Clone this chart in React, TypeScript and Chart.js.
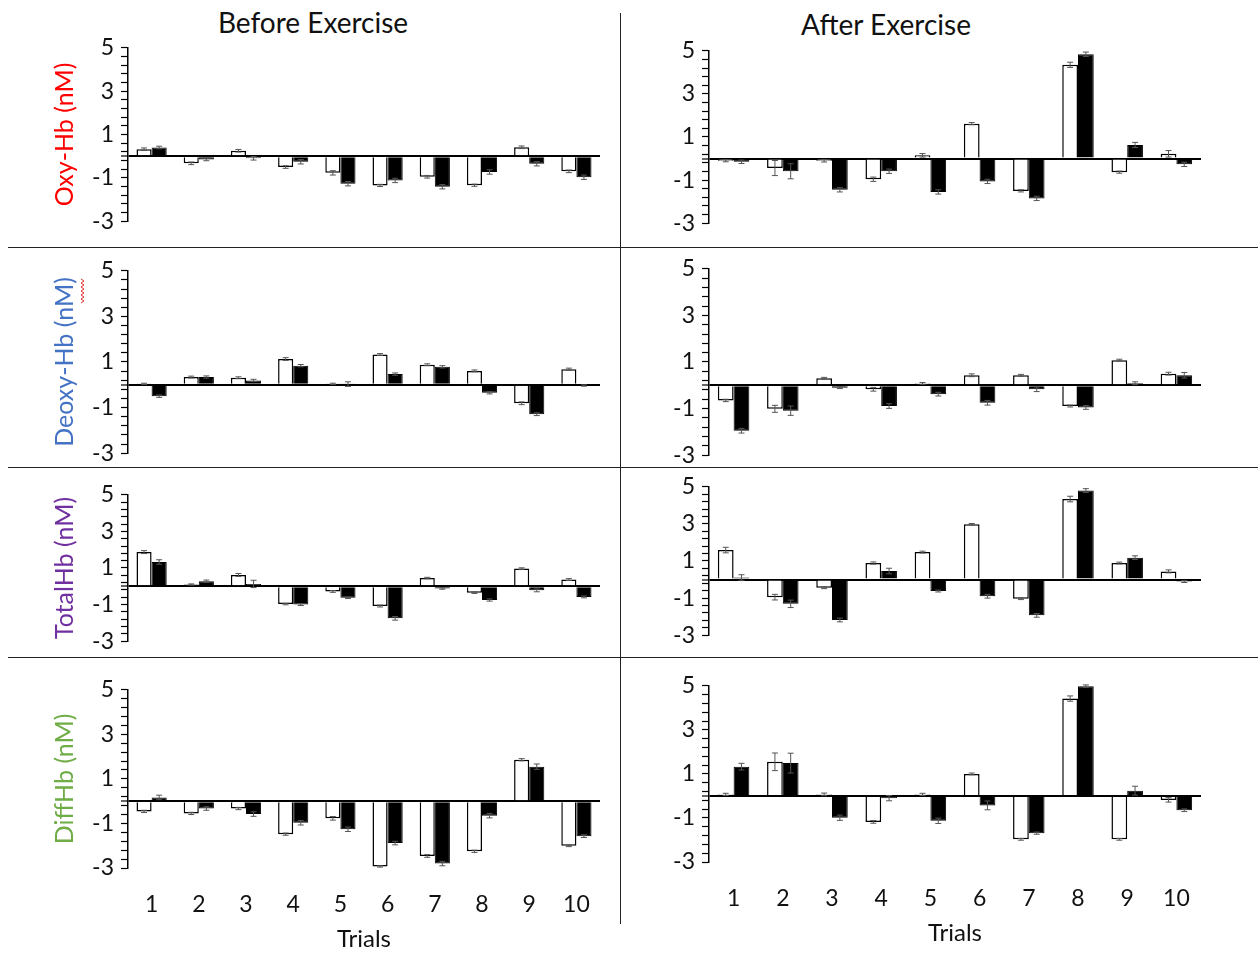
import React, { useEffect, useRef } from 'react';
import { Chart, registerables } from 'chart.js';

Chart.register(...registerables);

// ---------- data ----------
const trials = ['1', '2', '3', '4', '5', '6', '7', '8', '9', '10'];
const yMajorTicks = [5, 3, 1, -1, -3];

// Oxy-Hb, before exercise
const oxyBeforeOpen = [0.32, -0.33, 0.25, -0.5, -0.77, -1.35, -0.95, -1.34, 0.41, -0.7];
const oxyBeforeOpenErr = [0.06, 0.06, 0.06, 0.06, 0.1, 0.05, 0.06, 0.05, 0.06, 0.06];
const oxyBeforeFilled = [0.4, -0.15, -0.1, -0.26, -1.27, -1.12, -1.41, -0.73, -0.35, -0.97];
const oxyBeforeFilledErr = [0.06, 0.06, 0.08, 0.1, 0.1, 0.1, 0.1, 0.1, 0.1, 0.1];
// Oxy-Hb, after exercise
const oxyAfterOpen = [-0.1, -0.44, -0.1, -0.96, 0.15, 1.62, -1.5, 4.35, -0.63, 0.22];
const oxyAfterOpenErr = [0.05, 0.35, 0.06, 0.1, 0.08, 0.05, 0.05, 0.12, 0.05, 0.15];
const oxyAfterFilled = [-0.15, -0.59, -1.45, -0.59, -1.55, -1.06, -1.85, 4.84, 0.63, -0.27];
const oxyAfterFilledErr = [0.08, 0.35, 0.1, 0.1, 0.1, 0.1, 0.1, 0.1, 0.12, 0.1];

// Deoxy-Hb, before exercise
const deoxyBeforeOpen = [0.04, 0.34, 0.31, 1.13, 0.04, 1.33, 0.88, 0.61, -0.81, 0.68];
const deoxyBeforeOpenErr = [0.03, 0.04, 0.04, 0.06, 0.03, 0.04, 0.04, 0.04, 0.06, 0.05];
const deoxyBeforeFilled = [-0.5, 0.34, 0.19, 0.84, 0.03, 0.47, 0.79, -0.35, -1.29, -0.03];
const deoxyBeforeFilledErr = [0.05, 0.05, 0.05, 0.05, 0.1, 0.05, 0.05, 0.05, 0.06, 0.03];
// Deoxy-Hb, after exercise
const deoxyAfterOpen = [-0.65, -1.01, 0.3, -0.17, 0.08, 0.43, 0.43, -0.89, 1.08, 0.5];
const deoxyAfterOpenErr = [0.05, 0.15, 0.04, 0.08, 0.04, 0.06, 0.04, 0.04, 0.04, 0.06];
const deoxyAfterFilled = [-1.95, -1.09, -0.1, -0.89, -0.38, -0.75, -0.17, -0.95, 0.09, 0.43];
const deoxyAfterFilledErr = [0.1, 0.2, 0.04, 0.1, 0.08, 0.1, 0.1, 0.08, 0.06, 0.12];

// TotalHb, before exercise
const totalBeforeOpen = [1.87, 0.1, 0.62, -0.97, -0.28, -1.08, 0.45, -0.35, 0.97, 0.37];
const totalBeforeOpenErr = [0.08, 0.03, 0.08, 0.04, 0.05, 0.05, 0.04, 0.04, 0.04, 0.05];
const totalBeforeFilled = [1.33, 0.28, 0.13, -1.0, -0.63, -1.75, -0.12, -0.75, -0.22, -0.58];
const totalBeforeFilledErr = [0.12, 0.06, 0.2, 0.05, 0.04, 0.1, 0.04, 0.06, 0.08, 0.05];
// TotalHb, after exercise
const totalAfterOpen = [1.59, -0.95, -0.44, 0.89, 1.48, 2.98, -1.03, 4.34, 0.89, 0.44];
const totalAfterOpenErr = [0.15, 0.15, 0.05, 0.06, 0.05, 0.04, 0.05, 0.15, 0.05, 0.08];
const totalAfterFilled = [0.11, -1.31, -2.18, 0.46, -0.62, -0.9, -1.93, 4.8, 1.18, -0.11];
const totalAfterFilledErr = [0.15, 0.2, 0.1, 0.15, 0.05, 0.1, 0.1, 0.1, 0.1, 0.05];

// DiffHb, before exercise
const diffBeforeOpen = [-0.46, -0.55, -0.33, -1.48, -0.77, -2.93, -2.46, -2.25, 1.86, -2.0];
const diffBeforeOpenErr = [0.05, 0.05, 0.05, 0.05, 0.08, 0.03, 0.06, 0.05, 0.05, 0.04];
const diffBeforeFilled = [0.17, -0.33, -0.58, -0.97, -1.26, -1.88, -2.8, -0.65, 1.55, -1.57];
const diffBeforeFilledErr = [0.1, 0.08, 0.1, 0.1, 0.1, 0.08, 0.1, 0.1, 0.12, 0.06];
// DiffHb, after exercise
const diffAfterOpen = [0.07, 1.55, 0.07, -1.18, 0.07, 1.0, -1.97, 4.42, -1.97, -0.18];
const diffAfterOpenErr = [0.05, 0.4, 0.06, 0.06, 0.05, 0.04, 0.04, 0.12, 0.04, 0.1];
const diffAfterFilled = [1.33, 1.49, -0.99, -0.1, -1.13, -0.43, -1.69, 4.98, 0.24, -0.65];
const diffAfterFilledErr = [0.15, 0.45, 0.12, 0.12, 0.12, 0.2, 0.05, 0.06, 0.2, 0.06];

const FONT = 'Lato, "Open Sans", sans-serif';

type PanelSpec = {
  open: number[];
  openErr: number[];
  filled: number[];
  filledErr: number[];
  col: 0 | 1;
  top: number;
  bottom: number;
  bottomRow?: boolean;
  yTitle?: string;
  yTitleColor?: string;
};

const errorBarPlugin = {
  id: 'errorBars',
  afterDatasetsDraw(chart: any) {
    const ctx = chart.ctx;
    const yScale = chart.scales.y;
    chart.data.datasets.forEach((ds: any, i: number) => {
      const meta = chart.getDatasetMeta(i);
      const errs: number[] = ds.errors || [];
      meta.data.forEach((el: any, j: number) => {
        const v = ds.data[j];
        const e = errs[j] || 0;
        const x = el.x;
        const y1 = yScale.getPixelForValue(v + e);
        const y2 = yScale.getPixelForValue(v - e);
        ctx.save();
        ctx.strokeStyle = '#555';
        ctx.lineWidth = 1;
        ctx.beginPath();
        ctx.moveTo(x, y1);
        ctx.lineTo(x, y2);
        ctx.moveTo(x - 3, y1);
        ctx.lineTo(x + 3, y1);
        ctx.moveTo(x - 3, y2);
        ctx.lineTo(x + 3, y2);
        ctx.stroke();
        ctx.restore();
      });
    });
  },
};

const COLS = [
  { canvasLeft: 40, axisW: 88, chartRight: 600 },
  { canvasLeft: 640, axisW: 69, chartRight: 1201 },
];
const PAD = 16;
const XAXIS_H = 86;

function Panel({ spec }: { spec: PanelSpec }) {
  const ref = useRef<HTMLCanvasElement | null>(null);
  const col = COLS[spec.col];
  const width = col.chartRight - col.canvasLeft;
  const height = spec.bottom - spec.top + PAD + (spec.bottomRow ? XAXIS_H : PAD);

  useEffect(() => {
    if (!ref.current) return;
    const chart = new Chart(ref.current, {
      type: 'bar',
      data: {
        labels: trials,
        datasets: [
          {
            data: spec.open,
            errors: spec.openErr,
            backgroundColor: '#ffffff',
            borderColor: '#000000',
            borderWidth: 1.5,
            categoryPercentage: 0.64,
            barPercentage: 1,
          } as any,
          {
            data: spec.filled,
            errors: spec.filledErr,
            backgroundColor: '#000000',
            borderColor: '#000000',
            borderWidth: 1,
            categoryPercentage: 0.64,
            barPercentage: 1,
          } as any,
        ],
      },
      options: {
        responsive: false,
        animation: false,
        devicePixelRatio: 1,
        layout: { padding: { top: PAD, bottom: spec.bottomRow ? 0 : PAD, left: 0, right: 0 } },
        plugins: { legend: { display: false }, tooltip: { enabled: false } },
        scales: {
          x: spec.bottomRow
            ? {
                afterFit: (s: any) => {
                  s.height = XAXIS_H;
                },
                border: { display: false },
                grid: {
                  display: true,
                  drawOnChartArea: false,
                  drawTicks: true,
                  tickLength: 23,
                  tickColor: 'rgba(0,0,0,0)',
                },
                ticks: {
                  padding: 0,
                  color: '#111',
                  font: { family: FONT, size: 23 },
                  maxRotation: 0,
                },
                title: {
                  display: true,
                  text: 'Trials',
                  color: '#111',
                  font: { family: FONT, size: 24 },
                  padding: { top: 0, bottom: 0 },
                },
              }
            : { display: false },
          y: {
            min: -3,
            max: 5,
            afterFit: (s: any) => {
              s.width = col.axisW;
            },
            afterBuildTicks: (s: any) => {
              const t = s.ticks.slice();
              t.push({ value: 0 });
              t.sort((a: any, b: any) => a.value - b.value);
              s.ticks = t;
            },
            border: { color: '#000', width: 1.5 },
            grid: {
              drawOnChartArea: true,
              color: (c: any) => (c.tick && Math.abs(c.tick.value) < 1e-9 ? '#000' : 'rgba(0,0,0,0)'),
              lineWidth: (c: any) => (c.tick && Math.abs(c.tick.value) < 1e-9 ? 2 : 1),
              tickColor: '#000',
              tickLength: 7,
              tickWidth: 1.2,
            },
            ticks: {
              stepSize: 0.4,
              autoSkip: false,
              maxTicksLimit: 100,
              padding: 7,
              color: '#111',
              font: { family: FONT, size: 23 },
              callback: (v: any) => {
                const r = Math.round(Number(v) * 10) / 10;
                return yMajorTicks.includes(r) ? String(r) : '';
              },
            },
            title: spec.yTitle
              ? {
                  display: true,
                  text: spec.yTitle,
                  color: spec.yTitleColor,
                  font: { family: FONT, size: 25 },
                  padding: { top: 10, bottom: 0 },
                }
              : { display: false },
          },
        },
      },
      plugins: [errorBarPlugin],
    } as any);
    return () => chart.destroy();
  }, []);

  return (
    <canvas
      ref={ref}
      width={width}
      height={height}
      style={{
        position: 'absolute',
        left: col.canvasLeft,
        top: spec.top - PAD,
        width,
        height,
        display: 'block',
      }}
    />
  );
}

const panels: PanelSpec[] = [
  { open: oxyBeforeOpen, openErr: oxyBeforeOpenErr, filled: oxyBeforeFilled, filledErr: oxyBeforeFilledErr, col: 0, top: 43, bottom: 226, yTitle: 'Oxy-Hb (nM)', yTitleColor: '#ff0000' },
  { open: oxyAfterOpen, openErr: oxyAfterOpenErr, filled: oxyAfterFilled, filledErr: oxyAfterFilledErr, col: 1, top: 46, bottom: 228 },
  { open: deoxyBeforeOpen, openErr: deoxyBeforeOpenErr, filled: deoxyBeforeFilled, filledErr: deoxyBeforeFilledErr, col: 0, top: 266, bottom: 458, yTitle: 'Deoxy-Hb (nM)', yTitleColor: '#4472c4' },
  { open: deoxyAfterOpen, openErr: deoxyAfterOpenErr, filled: deoxyAfterFilled, filledErr: deoxyAfterFilledErr, col: 1, top: 264, bottom: 460 },
  { open: totalBeforeOpen, openErr: totalBeforeOpenErr, filled: totalBeforeFilled, filledErr: totalBeforeFilledErr, col: 0, top: 490, bottom: 646, yTitle: 'TotalHb (nM)', yTitleColor: '#7030a0' },
  { open: totalAfterOpen, openErr: totalAfterOpenErr, filled: totalAfterFilled, filledErr: totalAfterFilledErr, col: 1, top: 482, bottom: 640 },
  { open: diffBeforeOpen, openErr: diffBeforeOpenErr, filled: diffBeforeFilled, filledErr: diffBeforeFilledErr, col: 0, top: 685, bottom: 868, bottomRow: true, yTitle: 'DiffHb (nM)', yTitleColor: '#70ad47' },
  { open: diffAfterOpen, openErr: diffAfterOpenErr, filled: diffAfterFilled, filledErr: diffAfterFilledErr, col: 1, top: 681, bottom: 862, bottomRow: true },
];

export default function App() {
  const hLine = (y: number) => (
    <div style={{ position: 'absolute', left: 8, top: y - 1, width: 1250, height: 0, borderTop: '1.5px solid #222' }} />
  );
  return (
    <div
      style={{
        position: 'absolute',
        left: 0,
        top: 0,
        width: 1258,
        height: 955,
        background: '#fff',
        overflow: 'hidden',
        fontFamily: FONT,
      }}
    >
      {hLine(248)}
      {hLine(468)}
      {hLine(658)}
      <div style={{ position: 'absolute', left: 620, top: 13, width: 0, height: 911, borderLeft: '1.5px solid #222' }} />
      <div style={{ position: 'absolute', left: 163, top: 5, width: 300, textAlign: 'center', fontSize: 28, lineHeight: '34px', color: '#111' }}>
        Before Exercise
      </div>
      <div style={{ position: 'absolute', left: 736, top: 7, width: 300, textAlign: 'center', fontSize: 28, lineHeight: '34px', color: '#111' }}>
        After Exercise
      </div>
      <svg style={{ position: 'absolute', left: 78, top: 278, width: 10, height: 26 }} width={10} height={26}>
        <polyline
          points="3,1 6,3 3,5 6,7 3,9 6,11 3,13 6,15 3,17 6,19 3,21 6,23 3,25"
          fill="none"
          stroke="#e03030"
          strokeWidth={1}
        />
      </svg>
      {panels.map((p, i) => (
        <Panel key={i} spec={p} />
      ))}
    </div>
  );
}
